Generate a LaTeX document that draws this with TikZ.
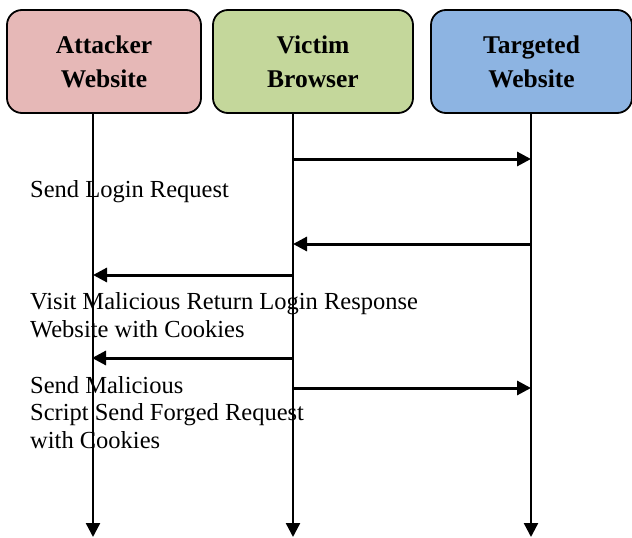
\documentclass[tikz,border=0pt]{standalone}
\usepackage{fontspec}
\setmainfont{Liberation Serif}
\usetikzlibrary{arrows.meta}
\definecolor{atkfill}{RGB}{230,184,183}
\definecolor{vicfill}{RGB}{196,215,155}
\definecolor{tgtfill}{RGB}{141,180,226}
\begin{document}
\begin{tikzpicture}[x=1pt,y=-1pt,
  actor/.style={draw=black, line width=1.8pt, rounded corners=15pt, minimum height=103pt,
    inner sep=0pt, align=center, font=\fontsize{25.5}{34}\selectfont\bfseries},
  life/.style={line width=2.4pt, -{Triangle[length=14pt,width=14pt]}},
  msg/.style={line width=3pt, -{Triangle[length=14pt,width=14pt]}},
  lbl/.style={anchor=base west, align=left, inner sep=0pt, font=\fontsize{24.5}{27.5}\selectfont}]
\useasboundingbox (0,0) rectangle (632,538);
\clip (0,0) rectangle (632,538);
% actors
\node[actor, fill=atkfill, minimum width=194pt] (atk) at (104,61.5) {Attacker\\Website};
\node[actor, fill=vicfill, minimum width=200pt] (vic) at (313,61.5) {Victim\\Browser};
\node[actor, fill=tgtfill, minimum width=201pt] (tgt) at (531.5,61.5) {Targeted\\Website};
% lifeline ends
\coordinate (aEnd) at (93,537);
\coordinate (vEnd) at (293,537);
\coordinate (tEnd) at (531,537);
\draw[life] (atk.south -| aEnd) -- (aEnd);
\draw[life] (vic.south -| vEnd) -- (vEnd);
\draw[life] (tgt.south -| tEnd) -- (tEnd);
% message end points
\coordinate (m1s) at (293,159); \coordinate (m1e) at (531,159);
\coordinate (m2s) at (530,244); \coordinate (m2e) at (293,244);
\coordinate (m3s) at (293,275); \coordinate (m3e) at (93,275);
\coordinate (m4s) at (293,358); \coordinate (m4e) at (92,358);
\coordinate (m5s) at (293,388); \coordinate (m5e) at (531,388);
\draw[msg] (m1s) -- (m1e);
\draw[msg] (m2s) -- (m2e);
\draw[msg] (m3s) -- (m3e);
\draw[msg] (m4s) -- (m4e);
\draw[msg] (m5s) -- (m5e);
% labels (base anchor = baseline of last line)
\node[lbl] (t1) at (30,197) {Send Login Request};
\node[lbl] (t2) at (30,337) {Visit Malicious Return Login Response\\Website with Cookies};
\node[lbl] (t3) at (30,448) {Send Malicious\\Script Send Forged Request\\with Cookies};
\end{tikzpicture}
\end{document}
